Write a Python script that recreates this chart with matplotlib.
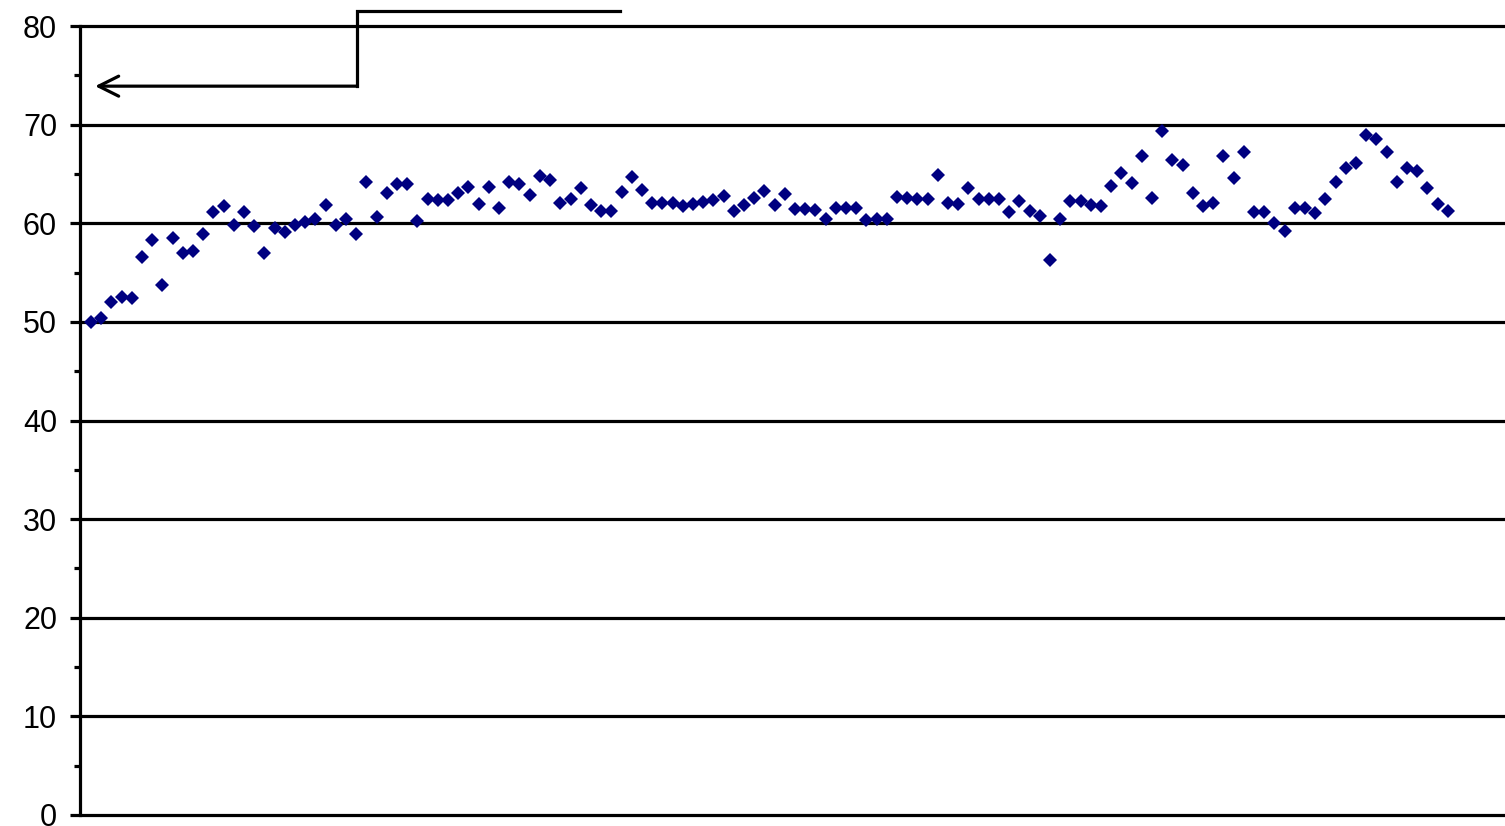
import matplotlib
matplotlib.use('Agg')
import matplotlib.pyplot as plt
import numpy as np

values = [50.0, 50.4, 52.0, 52.5, 52.4, 56.6, 58.3, 53.7, 58.5, 57.0,
          57.2, 58.9, 61.1, 61.7, 59.8, 61.1, 59.7, 57.0, 59.5, 59.1,
          59.8, 60.1, 60.4, 61.8, 59.8, 60.4, 58.9, 64.2, 60.6, 63.1,
          64.0, 64.0, 60.2, 62.5, 62.4, 62.4, 63.1, 63.7, 62.0, 63.7,
          61.5, 64.2, 64.0, 62.9, 64.8, 64.4, 62.1, 62.5, 63.6, 61.8,
          61.2, 61.2, 63.2, 64.7, 63.4, 62.1, 62.1, 62.1, 61.7, 62.0,
          62.2, 62.4, 62.8, 61.2, 61.9, 62.6, 63.3, 61.9, 63.0, 61.4,
          61.4, 61.3, 60.4, 61.5, 61.5, 61.5, 60.3, 60.4, 60.4, 62.7,
          62.6, 62.5, 62.5, 64.9, 62.1, 62.0, 63.6, 62.5, 62.5, 62.5,
          61.1, 62.3, 61.2, 60.7, 56.3, 60.4, 62.3, 62.3, 61.8, 61.7,
          63.8, 65.1, 64.1, 66.8, 62.6, 69.4, 66.4, 65.9, 63.1, 61.7,
          62.1, 66.8, 64.6, 67.2, 61.1, 61.1, 60.0, 59.2, 61.5, 61.5,
          61.0, 62.5, 64.2, 65.6, 66.1, 68.9, 68.5, 67.2, 64.2, 65.6,
          65.3, 63.6, 62.0, 61.2]
x = np.arange(1, len(values) + 1)

yticks = [0, 10, 20, 30, 40, 50, 60, 70, 80]
# elbow arrow drawn above the plot (x in point index, y in value units)
arrow_x = [52.9, 27.1, 27.1, 1.4]
arrow_y = [81.5, 81.5, 73.9, 73.9]

fig = plt.figure(figsize=(15.05, 8.26), dpi=100)
ax = fig.add_axes([80/1505, 11/826, 1 - 80/1505, 789/826])

xmin, xmax = -0.08, 139.6
ax.set_xlim(xmin, xmax)
ax.set_ylim(0, 80)

ax.hlines(yticks, xmin, xmax, colors='black', linewidth=2.3, clip_on=False, zorder=1)
ax.plot(x, values, linestyle='none', marker='D', markersize=7.0,
        color='#000080', markeredgewidth=0, zorder=3)

# arrow
ax.plot(arrow_x[:3], arrow_y[:3], color='black', lw=2.3, clip_on=False,
        solid_joinstyle='miter')
ax.annotate('', xy=(arrow_x[3], arrow_y[3]), xytext=(arrow_x[2], arrow_y[2]),
            arrowprops=dict(arrowstyle='->', lw=2.3, color='black',
                            mutation_scale=36, shrinkA=0, shrinkB=0),
            annotation_clip=False)

for s in ['top', 'right', 'bottom']:
    ax.spines[s].set_visible(False)
ax.spines['left'].set_linewidth(2.3)

ax.set_xticks([])
ax.set_yticks(yticks)
ax.set_yticks(np.arange(5, 80, 10), minor=True)
ax.tick_params(axis='y', which='major', length=7.5, width=2.3, pad=9,
               labelsize=22)
ax.tick_params(axis='y', which='minor', length=4.5, width=2.3)
for lab in ax.get_yticklabels():
    lab.set_fontfamily('Liberation Sans')

fig.savefig('out.png', dpi=100)
